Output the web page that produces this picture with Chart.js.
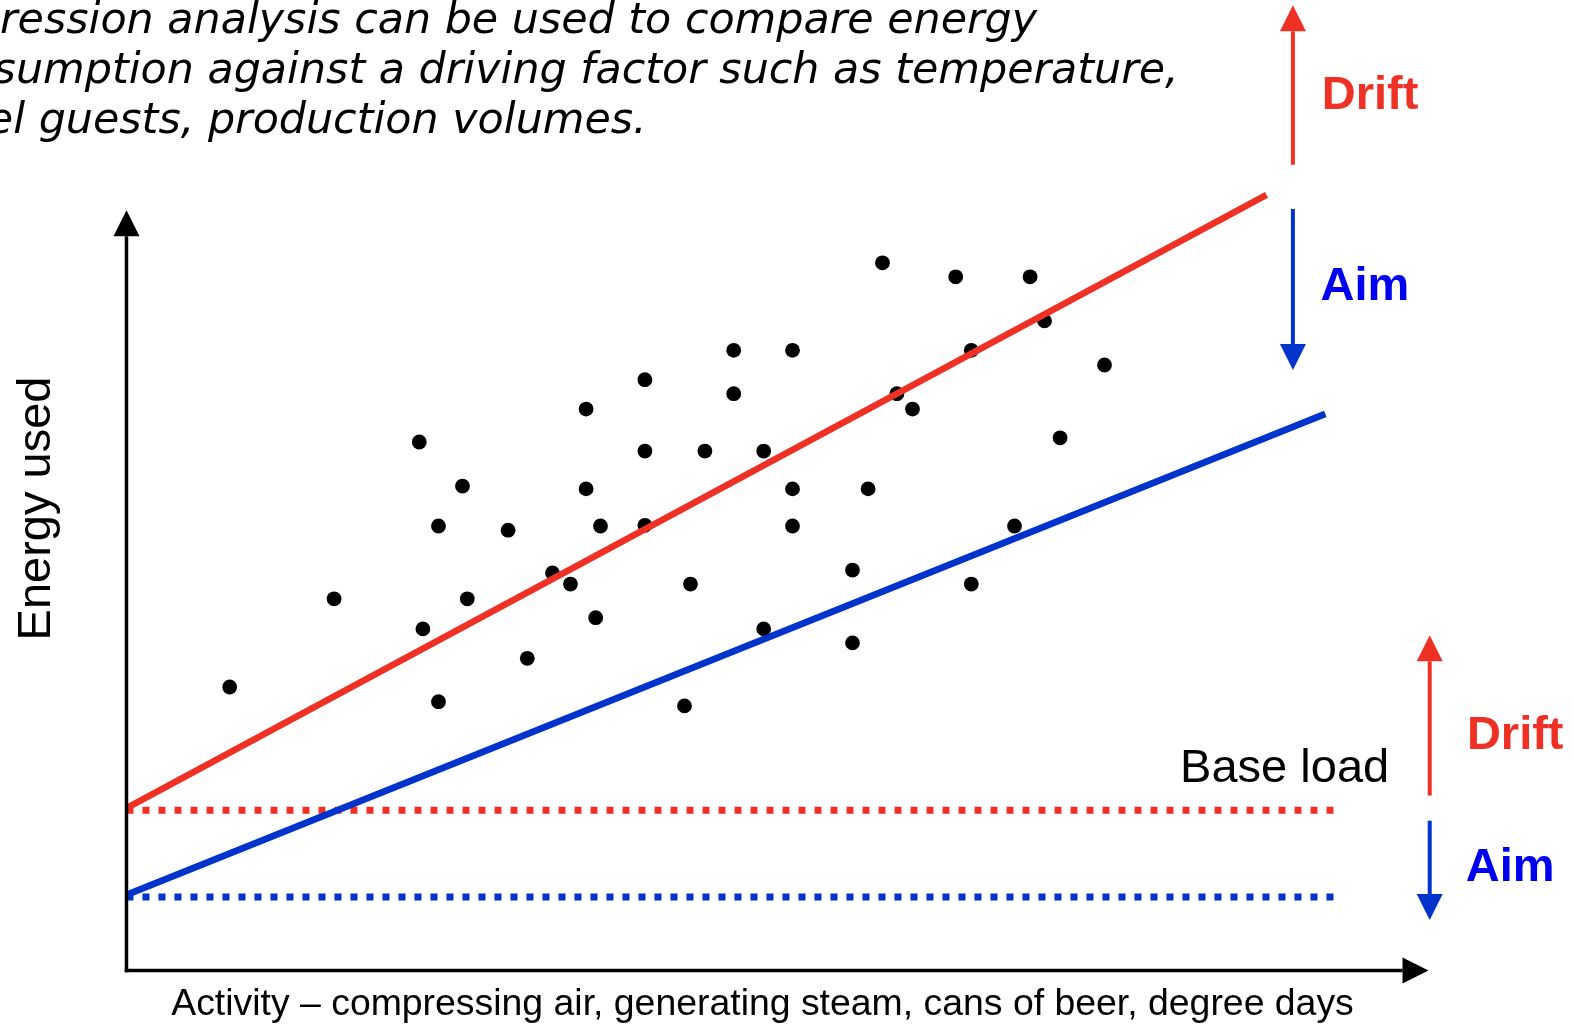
<!DOCTYPE html>
<html lang="en">
<head>
<meta charset="UTF-8">
<title>Regression analysis - energy used against activity</title>
<script src="https://cdn.jsdelivr.net/npm/chart.js"></script>
<style>
  html, body { margin: 0; padding: 0; background: #fff; }
  #wrap { width: 1573px; height: 1026px; position: relative; }
</style>
</head>
<body>
<div id="wrap"><canvas id="chart"></canvas></div>
<script>
// readings (activity vs energy used, arbitrary units)
var activity = [8.6, 17.3, 24.4, 28.0, 26.0, 31.8, 28.4, 24.7, 26.0, 33.4,
                35.5, 37.0, 39.1, 38.3, 38.3, 39.5, 43.2, 43.2, 43.2, 63.0,
                69.1, 75.3, 76.5, 70.4, 81.5, 50.6, 55.5, 50.6, 64.2, 65.5,
                77.8, 48.2, 53.1, 55.5, 61.8, 55.5, 74.0, 60.5, 47.0, 70.4,
                53.1, 60.5, 46.5];
var energy   = [40.5, 53.1, 75.5, 69.2, 63.5, 62.9, 53.1, 48.8, 38.4, 44.6,
                56.8, 55.2, 50.4, 80.2, 68.8, 63.5, 84.4, 74.2, 63.6, 101.1,
                99.1, 99.1, 92.8, 88.6, 86.5, 88.6, 88.6, 82.4, 82.4, 80.2,
                76.1, 74.2, 74.2, 68.8, 68.8, 63.5, 63.5, 57.2, 55.2, 55.2,
                48.8, 46.8, 37.8];

// regression lines: current (drift) and target (aim)
var driftLineX = [0, 95.0];
var driftLineY = [23.2, 110.8];
var aimLineX = [0, 99.9];
var aimLineY = [10.8, 79.5];

// base load levels
var baseLoadX = [0, 100.7];
var driftBase = 22.9;
var aimBase = 10.5;

// axis extent (arrow tips)
var xAxisEnd = 108.5;
var yAxisEnd = 108.6;

var RED = '#ee3124';
var BLUE = '#0033cc';
var TEXT_BLUE = '#0000f0';

function pairs(xs, ys) {
  return xs.map(function (x, i) { return { x: x, y: ys[i] }; });
}

// arrows and labels beside the chart
var notes = [
  { x: 97.2, from: 115.1, to: 137.9, color: RED },
  { x: 97.2, from: 108.8, to: 85.8, color: BLUE },
  { x: 108.6, from: 25.0, to: 47.9, color: RED },
  { x: 108.6, from: 21.4, to: 7.2, color: BLUE }
];
var labels = [
  { text: 'Drift', x: 99.6, y: 123.1, color: RED, font: 'bold 47px "Liberation Sans", Arial, sans-serif' },
  { text: 'Aim', x: 99.5, y: 95.8, color: TEXT_BLUE, font: 'bold 47px "Liberation Sans", Arial, sans-serif' },
  { text: 'Drift', x: 111.7, y: 31.6, color: RED, font: 'bold 47px "Liberation Sans", Arial, sans-serif' },
  { text: 'Aim', x: 111.6, y: 12.8, color: TEXT_BLUE, font: 'bold 47px "Liberation Sans", Arial, sans-serif' },
  { text: 'Base load', x: 87.8, y: 26.9, color: '#000', font: '47px "Liberation Sans", Arial, sans-serif' }
];
var intro = [
  'Regression analysis can be used to compare energy',
  'consumption against a driving factor such as temperature,',
  'hotel guests, production volumes.'
];

function arrow(ctx, x1, y1, x2, y2, color, lw, headLen, headHalf) {
  var ang = Math.atan2(y2 - y1, x2 - x1);
  var bx = x2 - Math.cos(ang) * headLen;
  var by = y2 - Math.sin(ang) * headLen;
  ctx.strokeStyle = color;
  ctx.lineWidth = lw;
  ctx.lineCap = 'butt';
  ctx.beginPath();
  ctx.moveTo(x1, y1);
  ctx.lineTo(bx, by);
  ctx.stroke();
  ctx.fillStyle = color;
  ctx.beginPath();
  ctx.moveTo(x2, y2);
  ctx.lineTo(bx + Math.sin(ang) * headHalf, by - Math.cos(ang) * headHalf);
  ctx.lineTo(bx - Math.sin(ang) * headHalf, by + Math.cos(ang) * headHalf);
  ctx.closePath();
  ctx.fill();
}

var sketch = {
  id: 'sketch',
  afterDatasetsDraw: function (chart) {
    var ctx = chart.ctx;
    var sx = chart.scales.x, sy = chart.scales.y;
    var x0 = sx.getPixelForValue(0), y0 = sy.getPixelForValue(0);
    ctx.save();

    // axes
    arrow(ctx, x0, y0 + 1.75, x0, sy.getPixelForValue(yAxisEnd), '#000', 3.5, 26, 13);
    arrow(ctx, x0 - 1.75, y0, sx.getPixelForValue(xAxisEnd), y0, '#000', 3.5, 26, 13);

    // drift / aim arrows
    notes.forEach(function (n) {
      var px = sx.getPixelForValue(n.x);
      arrow(ctx, px, sy.getPixelForValue(n.from), px, sy.getPixelForValue(n.to), n.color, 4, 26, 13);
    });

    ctx.textBaseline = 'alphabetic';
    ctx.textAlign = 'left';
    labels.forEach(function (l) {
      ctx.font = l.font;
      ctx.fillStyle = l.color;
      ctx.fillText(l.text, sx.getPixelForValue(l.x), sy.getPixelForValue(l.y));
    });

    // axis titles
    ctx.fillStyle = '#000';
    ctx.font = '37.4px "Liberation Sans", Arial, sans-serif';
    ctx.textAlign = 'center';
    ctx.fillText('Activity \u2013 compressing air, generating steam, cans of beer, degree days',
      sx.getPixelForValue(53.0), sy.getPixelForValue(-6.4));
    ctx.save();
    ctx.font = '47px "Liberation Sans", Arial, sans-serif';
    ctx.translate(sx.getPixelForValue(-6.4), sy.getPixelForValue(66.0));
    ctx.rotate(-Math.PI / 2);
    ctx.fillText('Energy used', 0, 0);
    ctx.restore();

    // intro text, cut by the left edge as in the slide
    ctx.font = 'italic 42.8px "DejaVu Sans", Verdana, sans-serif';
    ctx.textAlign = 'left';
    var left = -ctx.measureText('Reg').width;
    intro.forEach(function (line, i) {
      ctx.fillText(line, left, 33 + i * 50);
    });
    ctx.restore();
  }
};

new Chart(document.getElementById('chart'), {
  type: 'scatter',
  data: {
    datasets: [
      {
        label: 'Aim',
        type: 'line',
        data: pairs(aimLineX, aimLineY),
        borderColor: BLUE,
        borderWidth: 6.7,
        pointRadius: 0,
        order: 0
      },
      {
        label: 'Drift',
        type: 'line',
        data: pairs(driftLineX, driftLineY),
        borderColor: RED,
        borderWidth: 6.7,
        pointRadius: 0,
        order: 1
      },
      {
        label: 'Aim base load',
        type: 'line',
        data: pairs(baseLoadX, [aimBase, aimBase]),
        borderColor: BLUE,
        borderWidth: 7,
        borderDash: [7, 9],
        pointRadius: 0,
        order: 2
      },
      {
        label: 'Drift base load',
        type: 'line',
        data: pairs(baseLoadX, [driftBase, driftBase]),
        borderColor: RED,
        borderWidth: 7,
        borderDash: [7, 9],
        pointRadius: 0,
        order: 3
      },
      {
        label: 'Readings',
        data: pairs(activity, energy),
        backgroundColor: '#000',
        borderColor: '#000',
        borderWidth: 0,
        pointRadius: 7.4,
        order: 4
      }
    ]
  },
  options: {
    responsive: true,
    maintainAspectRatio: false,
    animation: false,
    layout: { padding: 0, autoPadding: false },
    plugins: {
      legend: { display: false },
      tooltip: { enabled: false }
    },
    scales: {
      x: { type: 'linear', display: false, min: -10.54, max: 120.54 },
      y: { type: 'linear', display: false, min: -7.93, max: 138.64 }
    }
  },
  plugins: [sketch]
});
</script>
</body>
</html>
